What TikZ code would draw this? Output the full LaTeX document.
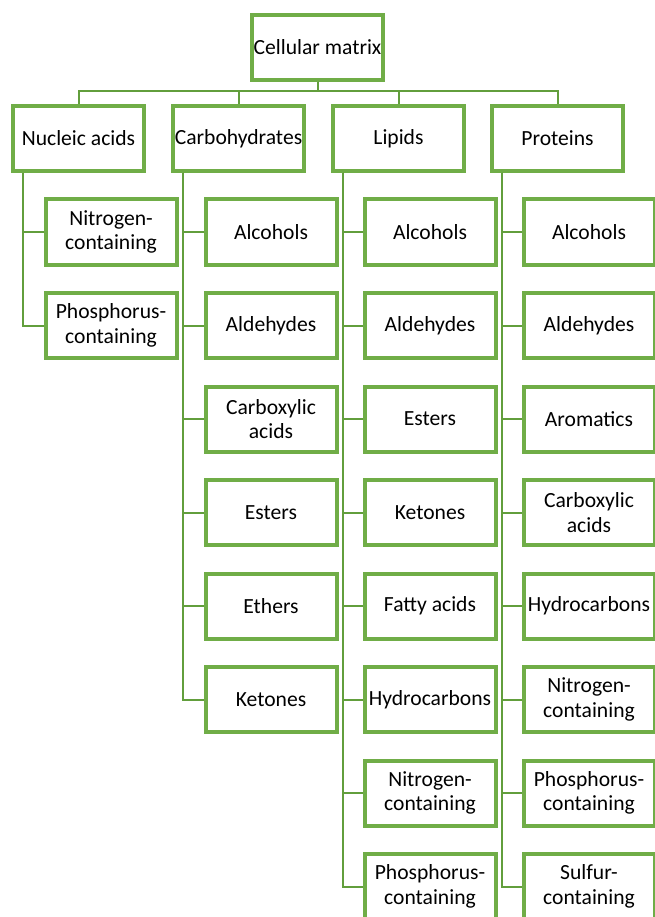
\documentclass[tikz,border=0pt]{standalone}
\usepackage{fontspec}
\setmainfont{Carlito}
\definecolor{chartcolor0000}{RGB}{112,173,71}
\definecolor{chartcolor0001}{RGB}{98,158,60}

\begin{document}
\begin{tikzpicture}[
  yscale = -1,
  cstyle0/.style = {draw=chartcolor0000,line width=4pt,fill=white,rectangle,minimum width=131pt,minimum height=65pt,inner sep=1pt,align=center,font=\fontsize{21.6}{24.6}\selectfont},
  cstyle1/.style = {color=chartcolor0001,line width=2pt},
]
  \useasboundingbox (0pt,0pt) rectangle (655pt,917pt);
  \node[cstyle0] (root) at (317.5pt,47.5pt) {Cellular matrix};
  \node[cstyle0] (nuc) at (78.5pt,138.5pt) {Nucleic acids};
  \node[cstyle0] (carb) at (238.5pt,138.5pt) {Carbohydrates};
  \node[cstyle0] (lip) at (398.5pt,138.5pt) {Lipids};
  \node[cstyle0] (prot) at (557.5pt,138.5pt) {Proteins};
  \node[cstyle0] (nuc1) at (111pt,232pt) {Nitrogen-\\containing};
  \node[cstyle0] (nuc2) at (111pt,325.5pt) {Phosphorus-\\containing};
  \node[cstyle0] (carb1) at (271pt,232pt) {Alcohols};
  \node[cstyle0] (carb2) at (271pt,325.5pt) {Aldehydes};
  \node[cstyle0] (carb3) at (271pt,419pt) {Carboxylic\\acids};
  \node[cstyle0] (carb4) at (271pt,512.5pt) {Esters};
  \node[cstyle0] (carb5) at (271pt,606pt) {Ethers};
  \node[cstyle0] (carb6) at (271pt,699.5pt) {Ketones};
  \node[cstyle0] (lip1) at (430pt,232pt) {Alcohols};
  \node[cstyle0] (lip2) at (430pt,325.5pt) {Aldehydes};
  \node[cstyle0] (lip3) at (430pt,419pt) {Esters};
  \node[cstyle0] (lip4) at (430pt,512.5pt) {Ketones};
  \node[cstyle0] (lip5) at (430pt,606pt) {Fatty acids};
  \node[cstyle0] (lip6) at (430pt,699.5pt) {Hydrocarbons};
  \node[cstyle0] (lip7) at (430pt,793pt) {Nitrogen-\\containing};
  \node[cstyle0] (lip8) at (430pt,886.5pt) {Phosphorus-\\containing};
  \node[cstyle0] (prot1) at (589pt,232pt) {Alcohols};
  \node[cstyle0] (prot2) at (589pt,325.5pt) {Aldehydes};
  \node[cstyle0] (prot3) at (589pt,419pt) {Aromatics};
  \node[cstyle0] (prot4) at (589pt,512.5pt) {Carboxylic\\acids};
  \node[cstyle0] (prot5) at (589pt,606pt) {Hydrocarbons};
  \node[cstyle0] (prot6) at (589pt,699.5pt) {Nitrogen-\\containing};
  \node[cstyle0] (prot7) at (589pt,793pt) {Phosphorus-\\containing};
  \node[cstyle0] (prot8) at (589pt,886.5pt) {Sulfur-\\containing};
  \draw[cstyle1] (root.south) -- ++(0pt,9pt) -| (nuc.north);
  \draw[cstyle1] (root.south) -- ++(0pt,9pt) -| (carb.north);
  \draw[cstyle1] (root.south) -- ++(0pt,9pt) -| (lip.north);
  \draw[cstyle1] (root.south) -- ++(0pt,9pt) -| (prot.north);
  \foreach \i in {1,2}
    \draw[cstyle1] ([xshift=12pt]nuc.south west) |- (nuc\i.west);
  \foreach \i in {1,...,6}
    \draw[cstyle1] ([xshift=12pt]carb.south west) |- (carb\i.west);
  \foreach \i in {1,...,8}
    \draw[cstyle1] ([xshift=12pt]lip.south west) |- (lip\i.west);
  \foreach \i in {1,...,8}
    \draw[cstyle1] ([xshift=12pt]prot.south west) |- (prot\i.west);
\end{tikzpicture}
\end{document}
